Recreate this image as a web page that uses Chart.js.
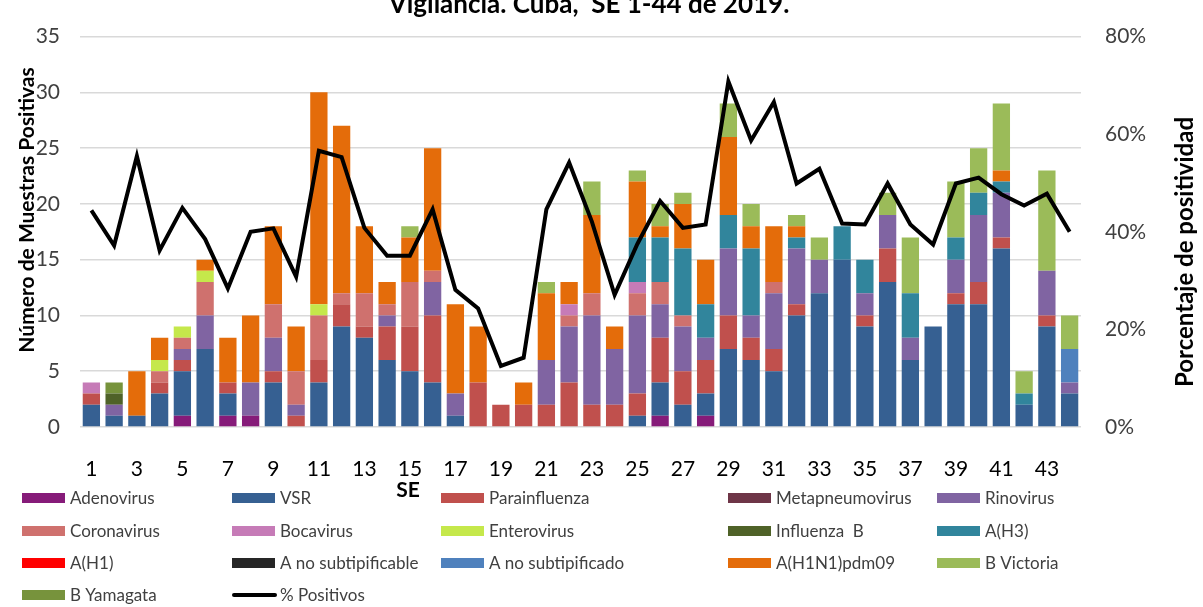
<!DOCTYPE html>
<html>
<head>
<meta charset="utf-8">
<script src="https://cdn.jsdelivr.net/npm/chart.js@4.4.1/dist/chart.umd.min.js"></script>
<style>
  html, body { margin: 0; padding: 0; background: #fff; }
  #wrap { width: 1203px; height: 607px; }
</style>
</head>
<body>
<div id="wrap"><canvas id="chart" width="1203" height="607"></canvas></div>
<script>
const weeks = Array.from({ length: 44 }, (_, i) => String(i + 1));

const adenovirus = [0,0,0,0,1,0,1,1,0,0, 0,0,0,0,0,0,0,0,0,0, 0,0,0,0,0,1,0,1,0,0, 0,0,0,0,0,0,0,0,0,0, 0,0,0,0];
const vsr = [2,1,1,3,4,7,2,0,4,0, 4,9,8,6,5,4,1,0,0,0, 0,0,0,0,1,3,2,2,7,6, 5,10,12,15,9,13,6,9,11,11, 16,2,9,3];
const parainfluenza = [1,0,0,1,1,0,1,0,1,1, 2,2,1,3,4,6,0,4,2,2, 2,4,2,2,2,4,3,3,3,2, 2,1,0,0,1,3,0,0,1,2, 1,0,1,0];
const metapneumovirus = [0,0,0,0,0,0,0,0,0,0, 0,0,0,0,0,0,0,0,0,0, 0,0,0,0,0,0,0,0,0,0, 0,0,0,0,0,0,0,0,0,0, 0,0,0,0];
const rinovirus = [0,1,0,0,1,3,0,3,3,1, 0,0,0,1,0,3,2,0,0,0, 4,5,8,5,7,3,4,2,6,2, 5,5,3,0,2,3,2,0,3,6, 4,0,4,1];
const coronavirus = [0,0,0,1,1,3,0,0,3,3, 4,1,3,1,4,1,0,0,0,0, 0,1,2,0,2,2,1,0,0,0, 1,0,0,0,0,0,0,0,0,0, 0,0,0,0];
const bocavirus = [1,0,0,0,0,0,0,0,0,0, 0,0,0,0,0,0,0,0,0,0, 0,1,0,0,1,0,0,0,0,0, 0,0,0,0,0,0,0,0,0,0, 0,0,0,0];
const enterovirus = [0,0,0,1,1,1,0,0,0,0, 1,0,0,0,0,0,0,0,0,0, 0,0,0,0,0,0,0,0,0,0, 0,0,0,0,0,0,0,0,0,0, 0,0,0,0];
const influenzaB = [0,1,0,0,0,0,0,0,0,0, 0,0,0,0,0,0,0,0,0,0, 0,0,0,0,0,0,0,0,0,0, 0,0,0,0,0,0,0,0,0,0, 0,0,0,0];
const aH3 = [0,0,0,0,0,0,0,0,0,0, 0,0,0,0,0,0,0,0,0,0, 0,0,0,0,4,4,6,3,3,6, 0,1,0,3,3,0,4,0,2,2, 1,1,0,0];
const aH1 = [0,0,0,0,0,0,0,0,0,0, 0,0,0,0,0,0,0,0,0,0, 0,0,0,0,0,0,0,0,0,0, 0,0,0,0,0,0,0,0,0,0, 0,0,0,0];
const aNoSubtipificable = [0,0,0,0,0,0,0,0,0,0, 0,0,0,0,0,0,0,0,0,0, 0,0,0,0,0,0,0,0,0,0, 0,0,0,0,0,0,0,0,0,0, 0,0,0,0];
const aNoSubtipificado = [0,0,0,0,0,0,0,0,0,0, 0,0,0,0,0,0,0,0,0,0, 0,0,0,0,0,0,0,0,0,0, 0,0,0,0,0,0,0,0,0,0, 0,0,0,3];
const aH1N1pdm09 = [0,0,4,2,0,1,4,6,7,4, 19,15,6,2,4,11,8,5,0,2, 6,2,7,2,5,1,4,4,7,2, 5,1,0,0,0,0,0,0,0,0, 1,0,0,0];
const bVictoria = [0,0,0,0,0,0,0,0,0,0, 0,0,0,0,1,0,0,0,0,0, 1,0,3,0,1,2,1,0,3,2, 0,1,2,0,0,2,5,0,5,4, 6,2,9,3];
const bYamagata = [0,1,0,0,0,0,0,0,0,0, 0,0,0,0,0,0,0,0,0,0, 0,0,0,0,0,0,0,0,0,0, 0,0,0,0,0,0,0,0,0,0, 0,0,0,0];

const pctPositivos = [44.4,37.2,55.5,36.2,44.9,38.5,28.4,40.0,40.7,30.8, 56.6,55.3,40.8,35.1,35.1,44.6,28.1,24.3,12.5,14.2, 44.6,54.2,42.1,27.1,37.5,46.3,40.8,41.5,70.8,58.7, 66.6,49.9,52.9,41.7,41.5,49.9,41.5,37.4,49.9,51.1, 47.7,45.4,47.8,40.0];

const FONT = 'Lato, "Open Sans", sans-serif';

const barSeries = [
  ['Adenovirus', adenovirus, '#861B79'],
  ['VSR', vsr, '#366092'],
  ['Parainfluenza', parainfluenza, '#C0504D'],
  ['Metapneumovirus', metapneumovirus, '#6E3547'],
  ['Rinovirus', rinovirus, '#8064A2'],
  ['Coronavirus', coronavirus, '#CF716E'],
  ['Bocavirus', bocavirus, '#C67BB7'],
  ['Enterovirus', enterovirus, '#C5E84B'],
  ['Influenza  B', influenzaB, '#4F6228'],
  ['A(H3)', aH3, '#31859C'],
  ['A(H1)', aH1, '#FF0000'],
  ['A no subtipificable', aNoSubtipificable, '#262626'],
  ['A no subtipificado', aNoSubtipificado, '#4F81BD'],
  ['A(H1N1)pdm09', aH1N1pdm09, '#E46C0A'],
  ['B Victoria', bVictoria, '#9BBB59'],
  ['B Yamagata', bYamagata, '#77933C'],
];

const datasets = barSeries.map(([label, data, color]) => ({
  type: 'bar',
  label: label,
  data: data,
  backgroundColor: color,
  borderWidth: 0,
  stack: 'a',
  yAxisID: 'y',
  order: 1,
  barPercentage: 0.76,
  categoryPercentage: 1,
}));

datasets.push({
  type: 'line',
  label: '% Positivos',
  data: pctPositivos,
  borderColor: '#000000',
  backgroundColor: '#000000',
  borderWidth: 4,
  pointRadius: 0,
  tension: 0,
  yAxisID: 'y1',
  order: 0,
});

// legend + titles drawn by hand to match the Excel layout
const legendCols = [22, 232, 441, 728, 937];
const legendRows = [498, 531, 563, 595];

const decor = {
  id: 'decor',
  afterDraw(chart) {
    const ctx = chart.ctx;
    ctx.save();

    ctx.fillStyle = '#000';
    ctx.font = 'bold 26px ' + FONT;
    ctx.textAlign = 'center';
    ctx.textBaseline = 'alphabetic';
    ctx.fillText('Vigilancia. Cuba,  SE 1-44 de 2019.', 589, 13);

    ctx.font = 'bold 21px ' + FONT;
    ctx.textBaseline = 'middle';
    ctx.fillText('SE', 408, 490);

    ctx.save();
    ctx.translate(27, 210);
    ctx.rotate(-Math.PI / 2);
    ctx.font = 'bold 21px ' + FONT;
    ctx.fillText('Número de Muestras Positivas', 0, 0);
    ctx.restore();

    ctx.save();
    ctx.translate(1185, 252);
    ctx.rotate(-Math.PI / 2);
    ctx.font = 'bold 24px ' + FONT;
    ctx.fillText('Porcentaje de positividad', 0, 0);
    ctx.restore();

    ctx.font = '17px ' + FONT;
    ctx.textAlign = 'left';
    chart.data.datasets.forEach((ds, i) => {
      const x = legendCols[i % 5];
      const y = legendRows[Math.floor(i / 5)];
      if (ds.type === 'line') {
        ctx.strokeStyle = ds.borderColor;
        ctx.lineWidth = 4;
        ctx.lineCap = 'round';
        ctx.beginPath();
        ctx.moveTo(x + 2, y);
        ctx.lineTo(x + 43, y);
        ctx.stroke();
      } else {
        ctx.fillStyle = ds.backgroundColor;
        ctx.fillRect(x, y - 5, 43, 10);
      }
      ctx.fillStyle = '#404040';
      ctx.fillText(ds.label, x + 48, y + 1);
    });

    ctx.restore();
  },
};

new Chart(document.getElementById('chart'), {
  data: { labels: weeks, datasets: datasets },
  options: {
    responsive: false,
    animation: false,
    devicePixelRatio: 1,
    layout: { padding: { top: 18, left: 0, right: 0, bottom: 0 } },
    plugins: {
      legend: { display: false },
      title: { display: false },
      tooltip: { enabled: false },
    },
    scales: {
      x: {
        stacked: true,
        grid: { display: false },
        border: { display: false },
        ticks: {
          autoSkip: false,
          maxRotation: 0,
          padding: 22,
          color: '#000',
          font: { family: FONT, size: 21 },
          callback: function (value, index) {
            return index % 2 === 0 ? weeks[index] : '';
          },
        },
        afterFit: function (scale) { scale.height = 180; },
      },
      y: {
        stacked: true,
        position: 'left',
        min: 0,
        max: 35,
        ticks: {
          stepSize: 5,
          padding: 20,
          color: '#404040',
          font: { family: FONT, size: 21 },
        },
        grid: { color: '#D9D9D9', lineWidth: 1.5, drawTicks: false },
        border: { display: false },
        afterFit: function (scale) { scale.width = 80; },
      },
      y1: {
        position: 'right',
        min: 0,
        max: 80,
        ticks: {
          stepSize: 20,
          padding: 24,
          color: '#404040',
          font: { family: FONT, size: 21 },
          callback: function (value) { return value + '%'; },
        },
        grid: { display: false, drawTicks: false },
        border: { display: false },
        afterFit: function (scale) { scale.width = 122; },
      },
    },
  },
  plugins: [decor],
});
</script>
</body>
</html>
